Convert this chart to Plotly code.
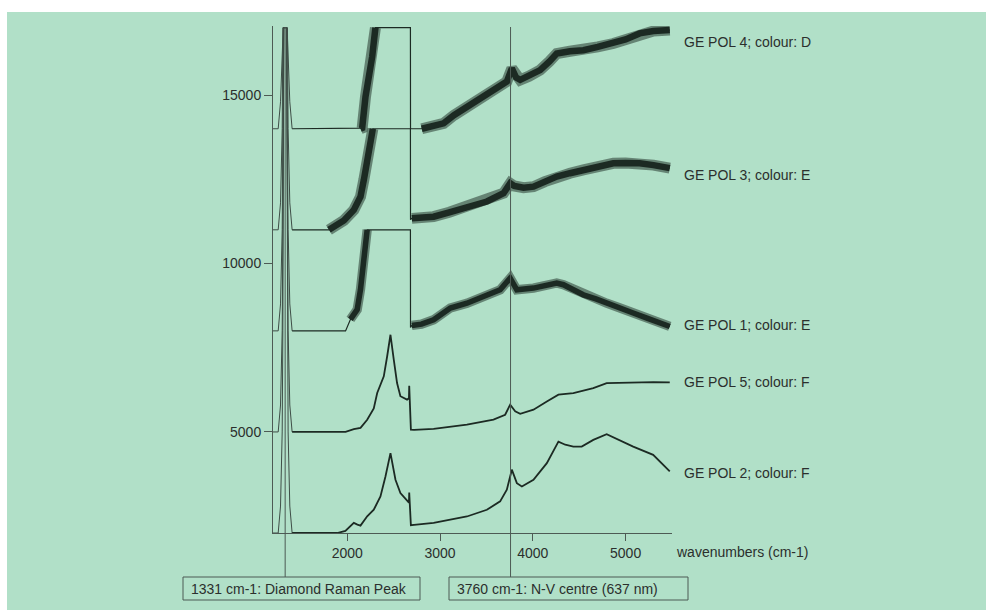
import plotly.graph_objects as go

# ---------------- data ----------------
x_tickvals = [2000, 3000, 4000, 5000]
x_ticktext = ["2000", "3000", "4000", "5000"]
y_tickvals = [5000, 10000, 15000]
y_ticktext = ["5000", "10000", "15000"]

series_names = ["GE POL 4; colour: D", "GE POL 3; colour: E", "GE POL 1; colour: E",
                "GE POL 5; colour: F", "GE POL 2; colour: F"]

pol4_wn = [1200, 1256, 1281, 1303, 1310, 1352, 1359, 1381, 1406, 2143, 2161, 2197, 2222, 2269, 2304,
           2681, 2682, 2803, 2900, 3039, 3150, 3290, 3400, 3505, 3620, 3720, 3774, 3820, 3864, 3960,
           4079, 4180, 4258, 4400, 4545, 4700, 4867, 5000, 5151, 5300, 5476]
pol4_val = [14000, 14000, 14800, 16400, 17000, 17000, 16400, 14800, 14000, 14000, 14020, 14950, 15350, 16140, 17000,
            17000, 14000, 14000, 14080, 14160, 14400, 14650, 14820, 15000, 15200, 15400, 15790, 15520, 15450, 15560,
            15740, 16000, 16230, 16300, 16330, 16430, 16530, 16650, 16830, 16900, 16930]

pol3_wn = [1200, 1256, 1281, 1299, 1306, 1356, 1363, 1381, 1406, 1803, 1900, 1964, 2071, 2143, 2179, 2197,
           2215, 2251, 2276, 2681, 2682, 2696, 2800, 2931, 3100, 3290, 3505, 3684, 3756, 3800, 3900,
           4007, 4130, 4258, 4400, 4545, 4700, 4867, 5000, 5151, 5300, 5476]
pol3_val = [11000, 11000, 11800, 14000, 17000, 17000, 14000, 11800, 11000, 11000, 11150, 11280, 11590, 11985, 12480, 12776,
            13170, 13666, 14000, 14000, 11300, 11340, 11360, 11390, 11520, 11690, 11840, 12085, 12380, 12300, 12250,
            12280, 12430, 12580, 12680, 12780, 12880, 12975, 12980, 12975, 12920, 12830]

pol1_wn = [1200, 1256, 1281, 1299, 1306, 1316, 1346, 1356, 1363, 1381, 1406, 1982, 2034, 2107, 2143, 2179,
           2197, 2215, 2681, 2682, 2696, 2800, 2931, 3111, 3290, 3505, 3648, 3756, 3828, 4007, 4130,
           4258, 4330, 4450, 4545, 4680, 4796, 4940, 5082, 5230, 5369, 5476]
pol1_val = [8000, 8000, 8800, 11000, 14000, 17000, 17000, 14000, 11000, 8800, 8000, 8000, 8340, 8630, 9230, 10020,
            10600, 11000, 11000, 8100, 8160, 8200, 8330, 8680, 8820, 9070, 9220, 9565, 9220, 9270, 9350,
            9420, 9370, 9220, 9070, 8950, 8820, 8680, 8530, 8380, 8230, 8130]

pol5_wn = [1200, 1256, 1281, 1299, 1306, 1316, 1346, 1356, 1363, 1381, 1406, 1982, 2071, 2143, 2215, 2286,
           2323, 2394, 2430, 2466, 2502, 2537, 2573, 2645, 2665, 2668, 2686, 2720, 2931, 3290, 3576,
           3702, 3756, 3810, 3864, 4007, 4151, 4276, 4437, 4652, 4796, 5082, 5300, 5476]
pol5_val = [5000, 5000, 5800, 8000, 11000, 17000, 17000, 11000, 8000, 5800, 5000, 5000, 5080, 5120, 5360, 5700,
            6155, 6650, 7240, 7885, 7140, 6450, 6060, 5960, 6000, 6370, 5070, 5060, 5090, 5215, 5365,
            5510, 5810, 5610, 5540, 5660, 5905, 6105, 6155, 6300, 6450, 6470, 6480, 6470]

pol2_wn = [1200, 1256, 1281, 1299, 1306, 1316, 1346, 1356, 1363, 1381, 1406, 1892, 1980, 2030, 2071, 2110,
           2143, 2215, 2286, 2358, 2412, 2466, 2500, 2520, 2573, 2600, 2645, 2665, 2668, 2686, 2720,
           2931, 3290, 3505, 3648, 3720, 3774, 3828, 3882, 4007, 4151, 4276, 4350, 4437, 4527, 4652,
           4796, 4940, 5082, 5297, 5476]
pol2_val = [2000, 2000, 2800, 5000, 8000, 17000, 17000, 8000, 5000, 2800, 2000, 2000, 2060, 2200, 2300, 2250,
            2220, 2497, 2690, 3085, 3678, 4372, 3900, 3580, 3186, 3100, 2950, 2900, 3200, 2230, 2240,
            2300, 2490, 2690, 2940, 3285, 3880, 3480, 3383, 3580, 4074, 4714, 4620, 4566, 4566, 4763,
            4935, 4750, 4566, 4320, 3829]

marker_wn = [1331, 3760]
marker_text = ["1331 cm-1: Diamond Raman Peak", "3760 cm-1: N-V centre (637 nm)"]
axis_title = "wavenumbers (cm-1)"

# ---------------- styling / layout ----------------
W, H = 986, 610
L, R, T, B = 273, 314, 26, 77
PW, PH = W - L - R, H - T - B
BG = "#b1e0c8"
INK = "#1c2a23"
PEAK = "#3e4d46"
GREY = "#4d5a54"
TXT = "#2b2f2d"
FONT = "Liberation Sans, Arial, sans-serif"


def px_x(px):  # screen pixel -> paper
    return (px - L) / PW


def px_y(py):
    return (H - B - py) / PH


spectra = [
    (pol4_wn, pol4_val, [(2143, 2304), (2803, 5476)], 1.0),
    (pol3_wn, pol3_val, [(1803, 2276), (2696, 5476)], 1.0),
    (pol1_wn, pol1_val, [(2034, 2215), (2696, 5476)], 0.85),
    (pol5_wn, pol5_val, [], 0),
    (pol2_wn, pol2_val, [], 0),
]
PEAK_END = 1406

fig = go.Figure()
for i, (wn, val, noisy, nscale) in enumerate(spectra):
    base_w = 1.2 if i < 3 else 1.8
    px_ = [a for a in wn if a <= PEAK_END]
    py_ = [b for a, b in zip(wn, val) if a <= PEAK_END]
    fig.add_trace(go.Scatter(x=px_, y=py_, mode="lines", line=dict(color=PEAK, width=1),
                             hoverinfo="skip", showlegend=False))
    rx = [a for a in wn if a >= PEAK_END]
    ry = [b for a, b in zip(wn, val) if a >= PEAK_END]
    fig.add_trace(go.Scatter(x=rx, y=ry, mode="lines", line=dict(color=INK, width=base_w),
                             hoverinfo="skip", showlegend=False))
    if noisy:
        nx, ny = [], []
        for lo, hi in noisy:
            for a, b in zip(wn, val):
                if lo <= a <= hi:
                    nx.append(a)
                    ny.append(b)
            nx.append(None)
            ny.append(None)
        fig.add_trace(go.Scatter(x=nx, y=ny, mode="lines",
                                 line=dict(color=INK, width=11 * nscale), opacity=0.5,
                                 hoverinfo="skip", showlegend=False))
        fig.add_trace(go.Scatter(x=nx, y=ny, mode="lines",
                                 line=dict(color=INK, width=6.5 * nscale),
                                 hoverinfo="skip", showlegend=False))

shapes = []
# white scan border at the top and left
shapes.append(dict(type="rect", xref="paper", yref="paper", x0=px_x(-5), x1=px_x(W + 5),
                   y0=px_y(12), y1=px_y(-5), fillcolor="white", line=dict(width=0), layer="below"))
shapes.append(dict(type="rect", xref="paper", yref="paper", x0=px_x(-5), x1=px_x(7),
                   y0=px_y(H + 5), y1=px_y(-5), fillcolor="white", line=dict(width=0), layer="below"))

box_px = [(183, 420), (449, 688)]
annotations = []
for wnm, txt, (bx0, bx1) in zip(marker_wn, marker_text, box_px):
    shapes.append(dict(type="line", xref="x", yref="paper", x0=wnm, x1=wnm,
                       y0=px_y(577), y1=px_y(27), line=dict(color=GREY, width=1)))
    shapes.append(dict(type="rect", xref="paper", yref="paper", x0=px_x(bx0), x1=px_x(bx1),
                       y0=px_y(600), y1=px_y(577), line=dict(color=GREY, width=1),
                       fillcolor="rgba(0,0,0,0)"))
    annotations.append(dict(text=txt, xref="paper", yref="paper", x=px_x(bx0 + 6), y=px_y(589),
                            xanchor="left", yanchor="middle", showarrow=False,
                            font=dict(family=FONT, size=14, color=TXT)))

label_py = [42, 175, 325, 382, 473]
for name, py in zip(series_names, label_py):
    annotations.append(dict(text=name, xref="paper", yref="paper", x=px_x(682), y=px_y(py),
                            xanchor="left", yanchor="middle", showarrow=False,
                            font=dict(family=FONT, size=14, color=TXT)))

annotations.append(dict(text=axis_title, xref="paper", yref="paper", x=px_x(674), y=px_y(552),
                        xanchor="left", yanchor="middle", showarrow=False,
                        font=dict(family=FONT, size=14, color=TXT)))

fig.update_layout(
    width=W, height=H,
    margin=dict(l=L, r=R, t=T, b=B, pad=0),
    paper_bgcolor=BG, plot_bgcolor=BG,
    shapes=shapes, annotations=annotations,
    font=dict(family=FONT, size=14, color=TXT),
    xaxis=dict(range=[1200, 5500], tickvals=x_tickvals, ticktext=x_ticktext,
               showgrid=False, zeroline=False, showline=True, linecolor=GREY, linewidth=1,
               ticks="outside", ticklen=7, tickcolor=GREY, tickwidth=1,
               tickfont=dict(family=FONT, size=14, color=TXT)),
    yaxis=dict(range=[2000, 17050], tickvals=y_tickvals, ticktext=y_ticktext,
               showgrid=False, zeroline=False, showline=True, linecolor=GREY, linewidth=1,
               ticks="outside", ticklen=8, tickcolor=GREY, tickwidth=1,
               tickfont=dict(family=FONT, size=14, color=TXT)),
)

fig.write_html("out.html", config={"displayModeBar": False},
               post_script="document.body.style.margin='0';document.body.style.overflow='hidden';")
